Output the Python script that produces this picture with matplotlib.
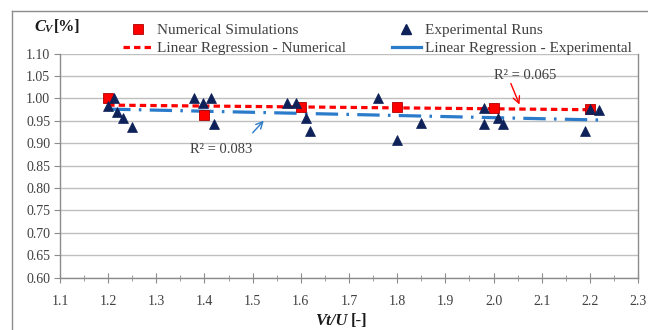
import numpy as np
import matplotlib
matplotlib.use("Agg")
import matplotlib.pyplot as plt
from matplotlib.lines import Line2D

# ---- data ----
num_x = [1.2, 1.4, 1.6, 1.8, 2.0, 2.2]
num_y = [1.000, 0.962, 0.981, 0.981, 0.978, 0.976]

exp_x = [1.20, 1.212, 1.218, 1.230, 1.249,
         1.379, 1.397, 1.413, 1.419,
         1.572, 1.591, 1.610, 1.620,
         1.760, 1.800, 1.849,
         1.980, 1.980, 2.009, 2.020,
         2.190, 2.200, 2.219]
exp_y = [0.983, 1.000, 0.970, 0.957, 0.937,
         1.000, 0.990, 1.000, 0.942,
         0.990, 0.990, 0.957, 0.928,
         1.000, 0.907, 0.944,
         0.979, 0.943, 0.957, 0.943,
         0.928, 0.976, 0.974]

x_ticks = [1.1, 1.2, 1.3, 1.4, 1.5, 1.6, 1.7, 1.8, 1.9, 2.0, 2.1, 2.2, 2.3]
y_ticks = [0.60, 0.65, 0.70, 0.75, 0.80, 0.85, 0.90, 0.95, 1.00, 1.05, 1.10]

r2_num_label = "R² = 0.065"
r2_exp_label = "R² = 0.083"

# ---- style ----
plt.rcParams['font.family'] = ['Liberation Serif', 'DejaVu Serif']
RED = "#FF0000"
BLUE = "#2B7BCB"
NAVY = "#0E2158"
GRID = "#BFBFBF"
AXC = "#8C8C8C"
TXT = "#404040"

fig = plt.figure(figsize=(6.48, 3.30), dpi=100)
W, H = 648, 330
ax = fig.add_axes([60 / W, 1 - 277.5 / H, (638 - 60) / W, (277.5 - 53.5) / H])

# regression lines computed from data
pn = np.polyfit(num_x, num_y, 1)
pe = np.polyfit(exp_x, exp_y, 1)
xn = np.array([min(num_x), max(num_x)])
xe = np.array([min(exp_x), max(exp_x)])

ax.plot(xe, np.polyval(pe, xe), color=BLUE, lw=2.3, dashes=(7, 2.6, 0.8, 2.6),
        zorder=3, solid_capstyle='butt', dash_capstyle='butt')
ax.plot(xn, np.polyval(pn, xn), color=RED, lw=2.3, dashes=(2.0, 1.3),
        zorder=4, dash_capstyle='butt')

ax.plot(num_x, num_y, ls='none', marker='s', ms=6.5, mfc=RED, mec="#B00000",
        mew=0.6, zorder=5)
ax.plot(exp_x, exp_y, ls='none', marker='^', ms=6.5, mfc=NAVY, mec=NAVY,
        mew=0.5, zorder=6)

ax.set_xlim(1.1, 2.3)
ax.set_ylim(0.60, 1.10)
ax.set_xticks(x_ticks)
ax.set_xticklabels([f"{v:.1f}" for v in x_ticks])
ax.set_xticks(np.arange(1.15, 2.3, 0.1), minor=True)
ax.set_yticks(y_ticks)
ax.set_yticklabels([f"{v:.2f}" for v in y_ticks])

ax.grid(axis='y', color=GRID, lw=1.0)
ax.set_axisbelow(True)
ax.spines['top'].set_visible(False)
for s in ['left', 'bottom', 'right']:
    ax.spines[s].set_color(AXC)
    ax.spines[s].set_linewidth(1.0)

ax.tick_params(axis='x', which='major', direction='inout', length=7, color=AXC,
               labelsize=10, labelcolor=TXT, pad=9)
ax.tick_params(axis='x', which='minor', direction='inout', length=4, color=AXC)
ax.tick_params(axis='y', which='major', direction='out', length=4, color=AXC,
               labelsize=10, labelcolor=TXT, pad=3)
ax.tick_params(axis='y', which='minor', left=False)

# axis labels
fig.text(34 / W, 1 - 27 / H, "C", fontsize=12, fontweight='bold', style='italic',
         va='center', ha='left', color="#1A1A1A")
fig.text(44 / W, 1 - 30 / H, "V", fontsize=8, fontweight='bold', style='italic',
         va='center', ha='left', color="#1A1A1A")
fig.text(54 / W, 1 - 27 / H, "[%]", fontsize=11.5, fontweight='bold',
         va='center', ha='left', color="#1A1A1A")

fig.text(347 / W, 1 - 321 / H, "Vt/U", fontsize=12, fontweight='bold',
         style='italic', va='center', ha='right', color="#1A1A1A")
fig.text(351 / W, 1 - 321 / H, "[-]", fontsize=12, fontweight='bold',
         va='center', ha='left', color="#1A1A1A")

# legend
handles = [
    Line2D([], [], ls='none', marker='s', ms=6.5, mfc=RED, mec="#B00000", mew=0.6),
    Line2D([], [], color=RED, lw=2.3, dashes=(2.0, 1.3)),
    Line2D([], [], ls='none', marker='^', ms=6.5, mfc=NAVY, mec=NAVY),
    Line2D([], [], color=BLUE, lw=2.3),
]
labels = ["Numerical Simulations", "Linear Regression - Numerical",
          "Experimental Runs", "Linear Regression - Experimental"]
leg = fig.legend(handles, labels, ncol=2, loc='upper left',
                 bbox_to_anchor=(114 / W, 1 - 14 / H), frameon=False,
                 fontsize=11, handlelength=1.9, handletextpad=0.3,
                 columnspacing=3.0, labelspacing=0.3, borderpad=0.1)
for t in leg.get_texts():
    t.set_color(TXT)

# annotations
ax.text(2.065, 1.050, r2_num_label, ha='center', va='center', fontsize=10.5,
        color=TXT, zorder=7)
ax.annotate('', xy=(2.054, 0.986), xytext=(2.036, 1.033),
            arrowprops=dict(arrowstyle='->', color=RED, lw=1.0,
                            shrinkA=0, shrinkB=0, mutation_scale=12))
ax.text(1.434, 0.885, r2_exp_label, ha='center', va='center', fontsize=10.5,
        color=TXT, zorder=7)
ax.annotate('', xy=(1.523, 0.950), xytext=(1.500, 0.923),
            arrowprops=dict(arrowstyle='->', color=BLUE, lw=1.0,
                            shrinkA=0, shrinkB=0, mutation_scale=12))

# outer chart border (cropped at right/bottom)
fig.add_artist(Line2D([12 / W, 12 / W], [0, 1 - 11 / H], color=AXC, lw=1.0,
                      transform=fig.transFigure))
fig.add_artist(Line2D([12 / W, 1], [1 - 11 / H, 1 - 11 / H], color=AXC, lw=1.0,
                      transform=fig.transFigure))

fig.savefig("out.png", dpi=100)
